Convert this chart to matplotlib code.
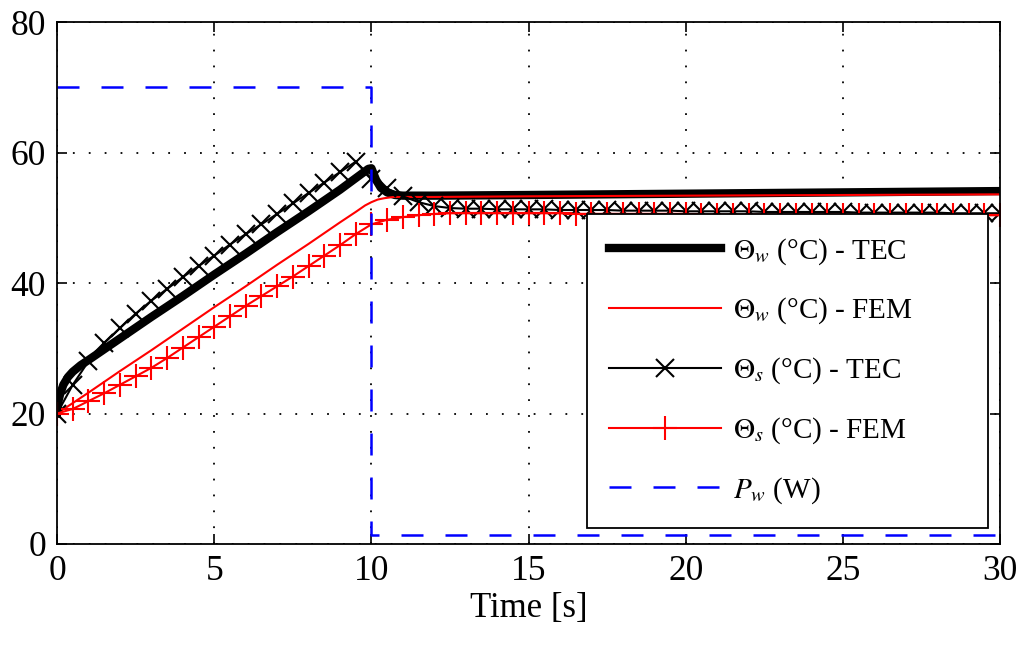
import numpy as np
import matplotlib
matplotlib.use("Agg")
import matplotlib.pyplot as plt

plt.rcParams["font.family"] = ["Liberation Serif", "DejaVu Serif"]
plt.rcParams["mathtext.fontset"] = "stix"

# Theta_w TEC (thick black)
t_w_tec = [0, 0.05, 0.1, 0.2, 0.35, 0.5, 0.75, 1, 2, 3, 4, 5, 6, 7, 8, 9, 9.9, 10,
           10.15, 10.3, 10.5, 10.75, 11, 12, 15, 20, 25, 30]
w_tec = [20, 22.0, 23.0, 24.4, 25.6, 26.4, 27.4, 28.2, 31.5, 34.8, 38.0, 41.3, 44.5, 47.8,
         51.0, 54.3, 57.5, 57.6, 55.8, 54.6, 53.9, 53.5, 53.4, 53.4, 53.5, 53.7, 53.9, 54.1]

# Theta_w FEM (thin red)
t_w_fem = [0, 1, 2, 3, 4, 5, 6, 7, 8, 9, 9.5, 9.8, 10, 10.2, 10.4, 10.7, 11, 12, 15, 20, 25, 30]
w_fem = [20, 23.2, 26.5, 29.7, 33.0, 36.3, 39.5, 42.8, 46.0, 49.3, 50.9, 51.9, 52.4, 52.8,
         53.0, 53.2, 53.2, 53.2, 53.3, 53.4, 53.5, 53.6]

# Theta_s, sampled every 0.5 s
t_s = np.arange(0, 30.5, 0.5)
s_tec = [20.0, 24.4, 28.0, 30.8, 33.1, 35.3, 37.3, 39.1, 40.9, 42.6, 44.2, 45.9, 47.5, 49.0,
         50.6, 52.2, 53.8, 55.4, 57.0, 58.6, 56.0, 54.5, 53.3, 52.4, 51.8, 51.5, 51.4, 51.4,
         51.3, 51.3, 51.3, 51.3, 51.2, 51.2, 51.2, 51.2, 51.1, 51.1, 51.1, 51.1, 51.0, 51.0,
         51.0, 51.0, 51.0, 50.9, 50.9, 50.9, 50.9, 50.9, 50.9, 50.8, 50.8, 50.8, 50.8, 50.8,
         50.8, 50.7, 50.7, 50.7, 50.7]
s_fem = [20.0, 20.7, 21.9, 23.1, 24.4, 25.7, 27.0, 28.5, 30.1, 31.7, 33.3, 34.9, 36.5, 38.0,
         39.5, 41.0, 42.6, 44.2, 45.8, 47.5, 49.0, 49.7, 50.1, 50.4, 50.6, 50.7, 50.7, 50.7,
         50.7, 50.7, 50.7, 50.7, 50.7, 50.6, 50.6, 50.6, 50.6, 50.6, 50.6, 50.6, 50.6, 50.5,
         50.5, 50.5, 50.5, 50.5, 50.5, 50.5, 50.5, 50.5, 50.5, 50.4, 50.4, 50.4, 50.4, 50.4,
         50.4, 50.4, 50.4, 50.4, 50.4]

# P_w (blue dashed)
t_p = [0, 10, 10, 30]
p_w = [70, 70, 1.4, 1.4]

fig = plt.figure(figsize=(10.24, 6.51), dpi=100)
ax = fig.add_axes([0.0557, 0.1644, 0.921, 0.8016])

ax.plot(t_w_tec, w_tec, color="black", lw=6, label=r"$\Theta_w$ (°C) - TEC")
ax.plot(t_w_fem, w_fem, color="red", lw=1.5, label=r"$\Theta_w$ (°C) - FEM")
ax.plot(t_s, s_tec, color="black", lw=1.5, marker="x", ms=12.5, mew=1.5,
        label=r"$\Theta_s$ (°C) - TEC")
ax.plot(t_s, s_fem, color="red", lw=1.5, marker="+", ms=17, mew=1.5,
        label=r"$\Theta_s$ (°C) - FEM")
ax.plot(t_p, p_w, color="blue", lw=1.8, dashes=(8.8, 8.8), label=r"$P_w$ (W)")

ax.set_xlim(0, 30)
ax.set_ylim(0, 80)
ax.set_xticks(range(0, 31, 5))
ax.set_yticks(range(0, 81, 20))
ax.grid(True, color="black", linestyle=(0, (1, 7.8)), linewidth=1.3)
ax.tick_params(direction="in", length=7, width=1.2, top=True, right=True,
               labelsize=25.5, pad=8)
for sp in ax.spines.values():
    sp.set_linewidth(1.3)
ax.set_xlabel("Time [s]", fontsize=25, labelpad=3)

leg = ax.legend(loc="lower left", bbox_to_anchor=(0.562, 0.031, 0.425, 0.3),
                mode="expand", borderaxespad=0,
                fontsize=21, handlelength=3.85, handletextpad=0.4, labelspacing=1.0,
                borderpad=0.75, fancybox=False, framealpha=1, edgecolor="black")
leg.get_frame().set_linewidth(1.3)

fig.savefig("out.png", dpi=100)
